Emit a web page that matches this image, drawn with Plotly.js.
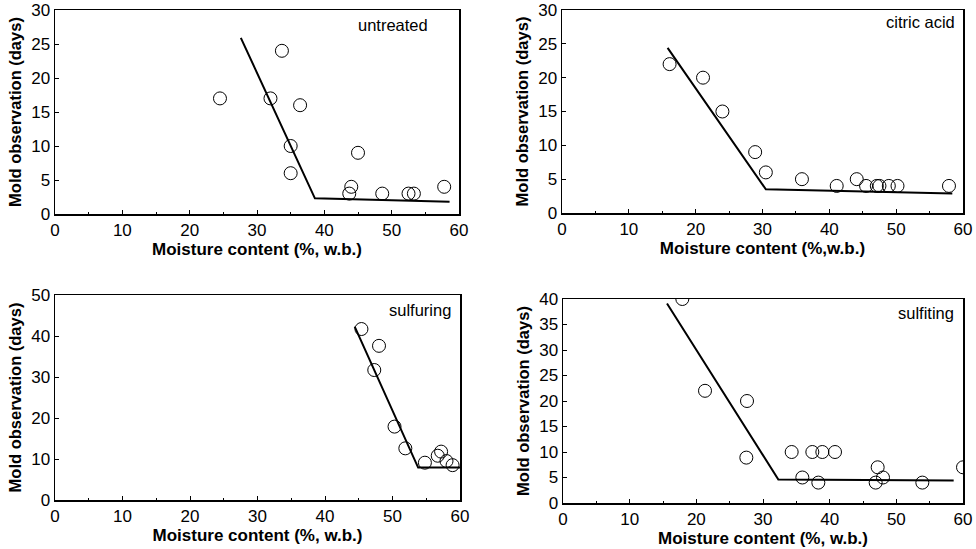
<!DOCTYPE html>
<html><head><meta charset="utf-8">
<script src="https://cdn.plot.ly/plotly-3.0.1.min.js"></script>
<style>html,body{margin:0;padding:0;background:#fff}#chart{width:976px;height:549px}</style>
</head><body><div id="chart"></div>
<script>
// untreated
const untreatedX = [24.5, 32, 33.7, 36.4, 35, 35, 45, 44, 43.7, 48.6, 52.5, 53.3, 57.8];
const untreatedY = [17, 17, 24, 16, 10, 6, 9, 4, 3, 3, 3, 3, 4];
const untreatedFitX = [27.6, 38.6, 58.6];
const untreatedFitY = [25.9, 2.3, 1.8];
// citric acid
const citricX = [16.1, 21.1, 24.0, 28.9, 30.5, 35.9, 41.1, 44.1, 45.5, 47.1, 47.5, 48.9, 50.2, 57.9];
const citricY = [22, 20, 15, 9, 6, 5, 4, 5, 4, 4, 4, 4, 4, 4];
const citricFitX = [15.8, 30.5, 58.4];
const citricFitY = [24.4, 3.5, 2.9];
// sulfuring
const sulfuringX = [45.4, 48.0, 47.3, 50.3, 51.9, 54.8, 56.7, 57.2, 58.0, 58.9];
const sulfuringY = [41.7, 37.6, 31.7, 17.9, 12.6, 9.1, 10.8, 11.8, 9.5, 8.5];
const sulfuringFitX = [44.4, 53.8, 60];
const sulfuringFitY = [42.3, 7.9, 7.9];
// sulfiting
const sulfitingX = [17.9, 21.3, 27.6, 27.5, 34.3, 35.9, 37.4, 38.9, 40.8, 38.3, 47.2, 46.9, 48.0, 53.9, 60];
const sulfitingY = [40, 22, 20, 8.9, 10, 5, 10, 10, 10, 4, 7, 4, 5, 4, 7];
const sulfitingFitX = [15.6, 32.3, 58.6];
const sulfitingFitY = [39.1, 4.6, 4.4];

const xTitles = ["Moisture content (%, w.b.)", "Moisture content (%,w.b.)", "Moisture content (%, w.b.)", "Moisture content (%, w.b.)"];
const yTitle = "Mold observation (days)";
const labels = ["untreated", "citric acid", "sulfuring", "sulfiting"];
const yMax = [30, 30, 50, 40];
const yDtick = [5, 5, 10, 5];

const pts = [[untreatedX, untreatedY], [citricX, citricY], [sulfuringX, sulfuringY], [sulfitingX, sulfitingY]];
const fits = [[untreatedFitX, untreatedFitY], [citricFitX, citricFitY], [sulfuringFitX, sulfuringFitY], [sulfitingFitX, sulfitingFitY]];

const W = 976, H = 549;
const boxes = [ // left, right, top, bottom in px
  [55, 459, 10, 214],
  [562, 963, 10, 213],
  [55, 460, 295, 500],
  [563, 963, 299, 503]
];
const labelPos = [[0.928, 0.926], [0.984, 0.94], [0.982, 0.927], [0.982, 0.933]];

const traces = [];
const layout = {
  width: W, height: H, margin: {l: 0, r: 0, t: 0, b: 0},
  paper_bgcolor: "#fff", plot_bgcolor: "#fff", showlegend: false,
  font: {family: "Liberation Sans, Arial, sans-serif", color: "#000"},
  annotations: []
};
for (let i = 0; i < 4; i++) {
  const s = i === 0 ? "" : String(i + 1);
  const b = boxes[i];
  traces.push({
    x: fits[i][0], y: fits[i][1], xaxis: "x" + s, yaxis: "y" + s,
    mode: "lines", line: {color: "#000", width: 2}, cliponaxis: true, hoverinfo: "skip"
  });
  traces.push({
    x: pts[i][0], y: pts[i][1], xaxis: "x" + s, yaxis: "y" + s,
    mode: "markers", cliponaxis: true,
    marker: {symbol: "circle-open", size: 13, color: "#000", line: {width: 1, color: "#000"}}
  });
  layout["xaxis" + s] = {
    domain: [b[0] / W, b[1] / W], anchor: "y" + s, range: [0, 60], dtick: 10,
    showgrid: false, zeroline: false, showline: true, mirror: true, linecolor: "#000", linewidth: 1.5,
    ticks: "inside", ticklen: 4, tickcolor: "#000",
    minor: {dtick: 5, ticks: "inside", ticklen: 2, tickcolor: "#000"},
    tickfont: {size: 17, color: "#000"},
    title: {text: "<b>" + xTitles[i] + "</b>", font: {size: 17, color: "#000"}, standoff: 0}
  };
  layout["yaxis" + s] = {
    domain: [1 - b[3] / H, 1 - b[2] / H], anchor: "x" + s, range: [0, yMax[i]], dtick: yDtick[i],
    showgrid: false, zeroline: false, showline: true, mirror: true, linecolor: "#000", linewidth: 1.5,
    ticks: "inside", ticklen: 4, tickcolor: "#000",
    tickfont: {size: 17, color: "#000"},
    title: {text: "<b>" + yTitle + "</b>", font: {size: 16.5, color: "#000"}, standoff: 5}
  };
  layout.annotations.push({
    xref: "x" + s + " domain", yref: "y" + s + " domain",
    x: labelPos[i][0], y: labelPos[i][1], xanchor: "right", yanchor: "middle",
    text: labels[i], showarrow: false, font: {size: 16.5, color: "#000"}
  });
}
Plotly.newPlot("chart", traces, layout, {displayModeBar: false, staticPlot: true});
</script>
</body></html>
